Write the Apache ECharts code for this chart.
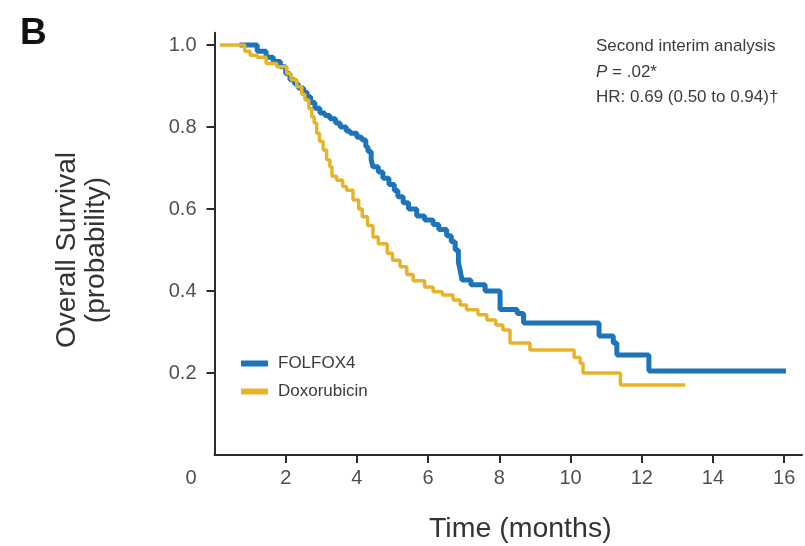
<!DOCTYPE html>
<html>
<head>
<meta charset="utf-8">
<script src="https://cdn.jsdelivr.net/npm/echarts@6/dist/echarts.min.js"></script>
<style>html,body{margin:0;padding:0;background:#fff;}#c{width:805px;height:546px;}</style>
</head>
<body>
<div id="c"></div>
<script>
// ---- data ----
const seriesNames = ['FOLFOX4', 'Doxorubicin'];
const xTicks = [2, 4, 6, 8, 10, 12, 14, 16];
const xLabels = [0, 2, 4, 6, 8, 10, 12, 14, 16];
const yTicks = [0.2, 0.4, 0.6, 0.8, 1.0];
const folfox4 = [
  [0.7,1.0],[1.2,0.985],[1.45,0.97],[1.65,0.96],[1.85,0.947],[2.0,0.93],[2.12,0.915],
  [2.25,0.905],[2.35,0.895],[2.5,0.885],[2.6,0.874],[2.7,0.86],[2.82,0.846],[2.96,0.834],
  [3.1,0.828],[3.24,0.82],[3.4,0.81],[3.53,0.80],[3.7,0.79],[3.81,0.785],[4.0,0.775],
  [4.14,0.768],[4.25,0.752],[4.31,0.74],[4.4,0.72],[4.45,0.703],[4.6,0.69],[4.73,0.675],
  [4.9,0.66],[5.05,0.645],[5.15,0.63],[5.3,0.615],[5.45,0.6],[5.68,0.583],[5.9,0.573],
  [6.14,0.562],[6.3,0.55],[6.52,0.535],[6.65,0.52],[6.76,0.5],[6.85,0.47],[6.9,0.45],
  [6.95,0.427],[7.2,0.415],[7.6,0.40],[8.02,0.355],[8.5,0.345],[8.68,0.322],[10.8,0.29],
  [11.2,0.273],[11.3,0.244],[12.2,0.205],[16.05,0.205]
];
const doxorubicin = [
  [0.15,1.0],[0.85,0.985],[1.0,0.975],[1.2,0.97],[1.45,0.955],[1.75,0.947],[2.03,0.93],
  [2.15,0.915],[2.31,0.898],[2.45,0.88],[2.54,0.866],[2.65,0.845],[2.73,0.825],[2.8,0.81],
  [2.87,0.785],[2.95,0.765],[3.05,0.744],[3.15,0.72],[3.24,0.703],[3.3,0.68],[3.43,0.67],
  [3.6,0.655],[3.71,0.646],[3.89,0.622],[4.05,0.60],[4.15,0.581],[4.3,0.56],[4.45,0.532],
  [4.6,0.515],[4.85,0.492],[5.0,0.475],[5.21,0.459],[5.4,0.44],[5.58,0.425],[5.9,0.41],
  [6.14,0.398],[6.4,0.39],[6.7,0.378],[6.9,0.366],[7.08,0.354],[7.4,0.342],[7.65,0.329],
  [7.9,0.317],[8.1,0.305],[8.3,0.273],[8.86,0.256],[10.1,0.238],[10.27,0.224],[10.35,0.2],
  [11.4,0.171],[13.22,0.171]
];
const annotation = ['Second interim analysis', '{i|P} = .02*', 'HR: 0.69 (0.50 to 0.94)\u2020'];

const FONT = '"Liberation Sans", Arial, sans-serif';
const chart = echarts.init(document.getElementById('c'), null, {renderer: 'canvas'});
chart.setOption({
  animation: false,
  backgroundColor: '#fff',
  grid: {left: 214.5, right: 3, top: 32.7, bottom: 91, containLabel: false},
  xAxis: {
    type: 'value', min: 0, max: 16.5,
    axisLine: {show: true, lineStyle: {color: '#2b2b2b', width: 2}},
    axisTick: {show: true, length: 8, lineStyle: {color: '#2b2b2b', width: 2}, customValues: xTicks},
    axisLabel: {
      customValues: xLabels, margin: 13, fontSize: 20, fontFamily: FONT, color: '#505050',
      formatter: v => v === 0 ? '{z|0}' : String(v),
      rich: {z: {fontSize: 20, fontFamily: FONT, color: '#505050', padding: [0, 47, 0, 0]}}
    },
    splitLine: {show: false}
  },
  yAxis: {
    type: 'value', min: 0, max: 1.03,
    axisLine: {show: true, lineStyle: {color: '#2b2b2b', width: 2}},
    axisTick: {show: true, length: 8, lineStyle: {color: '#2b2b2b', width: 2}, customValues: yTicks},
    axisLabel: {customValues: yTicks, margin: 18, fontSize: 20, fontFamily: FONT, color: '#505050',
      formatter: v => v.toFixed(1)},
    splitLine: {show: false}
  },
  legend: {
    orient: 'vertical', left: 241, top: 355, padding: 0, icon: 'rect', itemWidth: 27, itemHeight: 6, itemGap: 11,
    textStyle: {fontSize: 17, fontFamily: FONT, color: '#3c3c3c', padding: [0, 0, 0, 5]},
    data: seriesNames
  },
  graphic: [
    {type: 'text', left: 20, top: 15, style: {text: 'B', font: 'bold 37px ' + FONT, fill: '#111'}},
    {type: 'text', left: 429, top: 515, style: {text: 'Time (months)', font: '28.5px ' + FONT, fill: '#333'}},
    {type: 'text', x: 82, y: 250, rotation: Math.PI / 2,
      style: {text: 'Overall Survival\n(probability)', font: '28px ' + FONT, fill: '#333',
        align: 'center', verticalAlign: 'middle', lineHeight: 29}},
    {type: 'text', left: 596, top: 34,
      style: {text: annotation.join('\n'), font: '17px ' + FONT, fill: '#3c3c3c', lineHeight: 25.5,
        rich: {i: {fontStyle: 'italic', fontSize: 17, fontFamily: FONT, fill: '#3c3c3c'}}}}
  ],
  series: [
    {name: seriesNames[0], type: 'line', step: 'end', data: folfox4, showSymbol: false,
      lineStyle: {color: '#1c74bb', width: 5}, itemStyle: {color: '#1c74bb'}, z: 3},
    {name: seriesNames[1], type: 'line', step: 'end', data: doxorubicin, showSymbol: false,
      lineStyle: {color: '#e6b42a', width: 3.5}, itemStyle: {color: '#e6b42a'}, z: 4}
  ]
});
</script>
</body>
</html>
